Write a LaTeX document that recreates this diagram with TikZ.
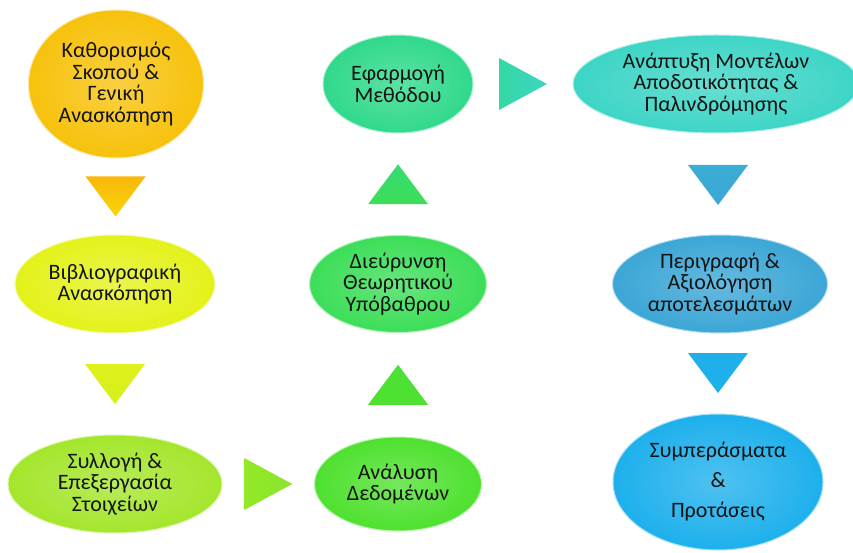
\documentclass[tikz,border=0pt]{standalone}
\usepackage{fontspec}
\setmainfont{Carlito}
\usepackage{xcolor}
\usetikzlibrary{
    calc,
    shapes.geometric
}
\definecolor{gold}{HTML}{F7C20C}
\definecolor{lemon}{HTML}{E4F21A}
\definecolor{lime}{HTML}{A4E62C}
\definecolor{grass}{HTML}{4EE12F}
\definecolor{leaf}{HTML}{3CDE58}
\definecolor{mint}{HTML}{30D98B}
\definecolor{aqua}{HTML}{3DD5C6}
\definecolor{steel}{HTML}{3BA6D6}
\definecolor{sky}{HTML}{1DB0EC}

\begin{document}
\begin{tikzpicture}[x=1pt, y=-1pt,
    stage/.style={ellipse, inner sep=0pt, align=center, text=black!92,
        font=\fontsize{22}{21.5}\selectfont,
        draw=white!60!#1, line width=1pt,
        inner color=white!22!#1, outer color=#1}
]
\clip (0,0) rectangle (853,553);
\fill[white] (0,0) rectangle (853,553);

% first column
\node[stage=gold, minimum width=175pt, minimum height=148pt] (kath) at (116, 84) {Καθορισμός\\Σκοπού \&\\Γενική\\Ανασκόπηση};
\node[stage=lemon, minimum width=200pt, minimum height=98pt] (vivl) at (115, 284) {Βιβλιογραφική\\Ανασκόπηση};
\node[stage=lime, minimum width=214pt, minimum height=98pt] (syll) at (115, 484) {Συλλογή \&\\Επεξεργασία\\Στοιχείων};

% second column
\node[stage=grass, minimum width=167pt, minimum height=94pt] (anal) at (398, 484) {Ανάλυση\\Δεδομένων};
\node[stage=leaf, minimum width=177pt, minimum height=97pt] (dieu) at (398, 284) {Διεύρυνση\\Θεωρητικού\\Υπόβαθρου};
\node[stage=mint, minimum width=150pt, minimum height=98pt] (efar) at (398, 84) {Εφαρμογή\\Μεθόδου};

% third column
\node[stage=aqua, minimum width=286pt, minimum height=98pt] (anap) at (716, 84) {Ανάπτυξη Μοντέλων\\Αποδοτικότητας \&\\Παλινδρόμησης};
\node[stage=steel, minimum width=215pt, minimum height=98pt] (peri) at (720, 284) {Περιγραφή \&\\Αξιολόγηση\\αποτελεσμάτων};
\node[stage=sky, minimum width=210pt, minimum height=136pt] (symp) at (718, 482) {Συμπεράσματα\\[8.5pt]\&\\[8.5pt]Προτάσεις};

% arrow heads between the stages
\coordinate (a1) at ($(kath.south)!0.5!(vivl.north)$);
\coordinate (a2) at ($(vivl.south)!0.5!(syll.north)$);
\coordinate (a3) at ($(syll.east)!0.5!(anal.west)$);
\coordinate (a4) at ($(anal.north)!0.5!(dieu.south)$);
\coordinate (a5) at ($(dieu.north)!0.5!(efar.south)$);
\coordinate (a6) at ($(efar.east)!0.5!(anap.west)$);
\coordinate (a7) at (718, 185);
\coordinate (a8) at (718, 373);

\shade[top color=gold!85!orange, bottom color=gold!70!yellow] ($(a1)+(-30,-20)$) -- ($(a1)+(30,-20)$) -- ($(a1)+(0,20)$) -- cycle;
\shade[top color=lemon!90!lime, bottom color=lemon!80!lime] ($(a2)+(-30,-20)$) -- ($(a2)+(30,-20)$) -- ($(a2)+(0,20)$) -- cycle;
\shade[left color=lime!90!green, right color=lime!70!grass] ($(a3)+(-24,-26)$) -- ($(a3)+(24,0)$) -- ($(a3)+(-24,26)$) -- cycle;
\shade[top color=grass!80!leaf, bottom color=grass] ($(a4)+(-30,20)$) -- ($(a4)+(30,20)$) -- ($(a4)+(0,-20)$) -- cycle;
\shade[top color=leaf!50!mint, bottom color=leaf] ($(a5)+(-30,20)$) -- ($(a5)+(30,20)$) -- ($(a5)+(0,-20)$) -- cycle;
\shade[left color=mint!60!aqua, right color=aqua] ($(a6)+(-24,-26)$) -- ($(a6)+(24,0)$) -- ($(a6)+(-24,26)$) -- cycle;
\shade[top color=steel!85!aqua, bottom color=steel] ($(a7)+(-30,-20)$) -- ($(a7)+(30,-20)$) -- ($(a7)+(0,20)$) -- cycle;
\shade[top color=sky!90!steel, bottom color=sky] ($(a8)+(-30,-20)$) -- ($(a8)+(30,-20)$) -- ($(a8)+(0,20)$) -- cycle;
\end{tikzpicture}
\end{document}
